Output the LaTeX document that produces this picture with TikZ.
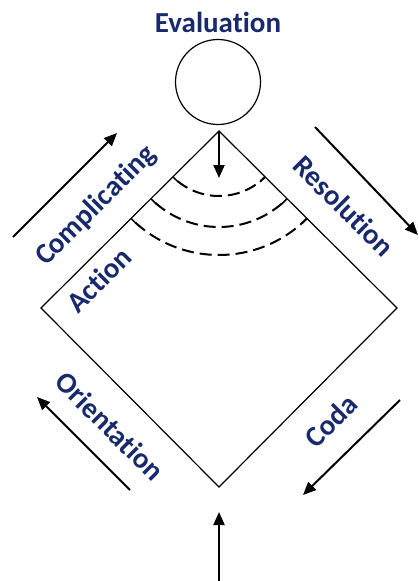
\documentclass[tikz,border=0pt]{standalone}
\usepackage{fontspec}
\setmainfont{Carlito}[Ligatures=NoCommon]
\usetikzlibrary{arrows.meta}
\definecolor{labelblue}{RGB}{25,42,108}
\begin{document}
\begin{tikzpicture}[x=1pt,y=-1pt,
  edge/.style={line width=1.2pt},
  flow/.style={line width=2pt,-{Triangle[length=13pt,width=11pt]}},
  lbl/.style={text=labelblue,font=\bfseries\fontsize{29}{33}\selectfont,inner sep=0pt},
  ring/.style={line width=2pt,dash pattern=on 12pt off 6pt,dash phase=12pt},
  arcend/.style={line width=1.5pt}]
\useasboundingbox (0,0) rectangle (419,581);
% diamond corners
\coordinate (T) at (219,131);
\coordinate (L) at (41,308);
\coordinate (R) at (397,308);
\coordinate (B) at (219,487);
\draw[edge] (T) -- (R) -- (B) -- (L) -- cycle;
% evaluation circle and title
\node[circle,draw,line width=1.2pt,minimum size=85pt,inner sep=0pt] (eval) at (218,82) {};
\node[lbl] (evaltxt) at (218,22) {Evaluation};
% arrow from the top corner into the diamond
\coordinate (inTip) at (219,178);
\draw[flow] (T) -- (inTip);
% concentric dashed arcs about the top corner
\foreach \r in {65,96,124}{
  \draw[ring] (T) ++(135:\r) arc[start angle=135,end angle=45,radius=\r];
  \draw[arcend] (T) ++(135:\r) -- ++(45:7);
  \draw[arcend] (T) ++(45:\r) -- ++(135:7);
}
% outer flow arrows
\coordinate (cA1) at (13,237);  \coordinate (cA2) at (117,133);
\coordinate (rA1) at (315,127); \coordinate (rA2) at (418,235);
\coordinate (oA1) at (130,490); \coordinate (oA2) at (37,397);
\coordinate (dA1) at (400,400); \coordinate (dA2) at (303,495);
\coordinate (bA1) at (219,581); \coordinate (bA2) at (219,512);
\draw[flow] (cA1) -- (cA2);
\draw[flow] (rA1) -- (rA2);
\draw[flow] (oA1) -- (oA2);
\draw[flow] (dA1) -- (dA2);
\draw[flow] (bA1) -- (bA2);
% stage labels
\node[lbl,rotate=45] (comp) at (96,206) {Complicating};
\node[lbl,rotate=45] (act) at (99,280) {Action};
\node[lbl,rotate=-45] (res) at (344,206) {Resolution};
\node[lbl,rotate=-45] (ori) at (110,426) {Orientation};
\node[lbl,rotate=45] (coda) at (331,421) {Coda};
\end{tikzpicture}
\end{document}
